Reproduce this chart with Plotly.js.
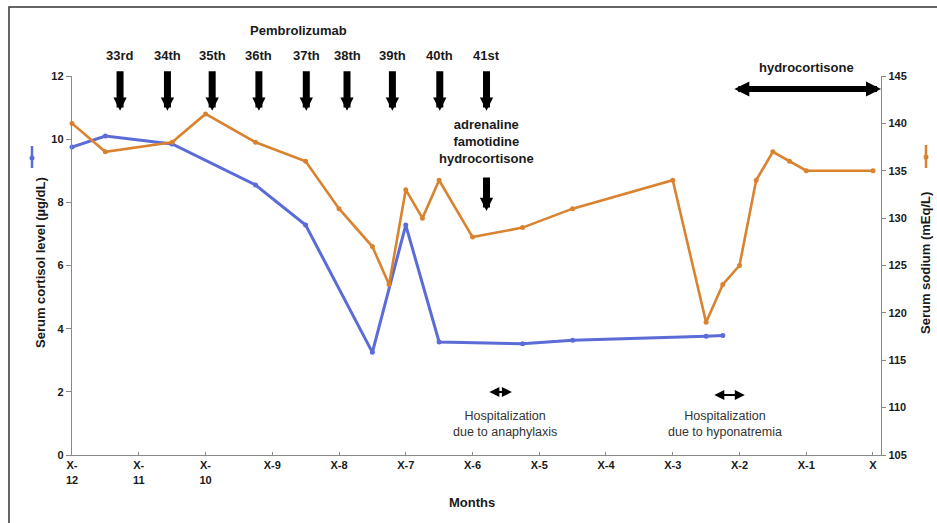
<!DOCTYPE html>
<html>
<head>
<meta charset="utf-8">
<script src="https://cdn.plot.ly/plotly-3.0.1.min.js"></script>
<style>html,body{margin:0;padding:0;background:#fff;}#chart{width:937px;height:523px;}</style>
</head>
<body>
<div id="chart"></div>
<script>
// ---- data ----
const cortisolMonths = [-12, -11.5, -10.5, -9.25, -8.5, -7.5, -7, -6.5, -5.25, -4.5, -2.5, -2.25];
const cortisolValues = [9.75, 10.1, 9.85, 8.55, 7.28, 3.25, 7.28, 3.58, 3.52, 3.63, 3.76, 3.78];

const sodiumMonths = [-12, -11.5, -10.5, -10, -9.25, -8.5, -8, -7.5, -7.25, -7, -6.75, -6.5, -6, -5.25, -4.5, -3, -2.5, -2.25, -2, -1.75, -1.5, -1.25, -1, 0];
const sodiumValues = [140, 137, 138, 141, 138, 136, 131, 127, 123, 133, 130, 134, 128, 129, 131, 134, 119, 123, 125, 134, 137, 136, 135, 135];

const tickMonths = [-12, -11, -10, -9, -8, -7, -6, -5, -4, -3, -2, -1, 0];
const tickLabels = ['X-<br>12', 'X-<br>11', 'X-<br>10', 'X-9', 'X-8', 'X-7', 'X-6', 'X-5', 'X-4', 'X-3', 'X-2', 'X-1', 'X'];

const doseLabels = ['33rd', '34th', '35th', '36th', '37th', '38th', '39th', '40th', '41st'];
const doseMonths = [-11.28, -10.57, -9.9, -9.2, -8.49, -7.88, -7.2, -6.49, -5.79];

const hydrocortisoneStart = -2.1;
const hydrocortisoneEnd = 0.12;
const anaphylaxisStay = [-5.77, -5.41];
const hyponatremiaStay = [-2.4, -1.92];

// ---- styles ----
const FONT = 'Liberation Sans, Arial, sans-serif';
const BLUE = '#5b6cd6';
const ORANGE = '#d9822f';
const INK = '#1a1a1a';
const AXIS = '#8a8a8a';

const traces = [
  {
    x: cortisolMonths, y: cortisolValues, type: 'scatter', mode: 'lines+markers',
    line: {color: BLUE, width: 3}, marker: {color: BLUE, size: 5},
    yaxis: 'y', cliponaxis: false, hoverinfo: 'skip'
  },
  {
    x: sodiumMonths, y: sodiumValues, type: 'scatter', mode: 'lines+markers',
    line: {color: ORANGE, width: 2.6}, marker: {color: ORANGE, size: 5},
    yaxis: 'y2', cliponaxis: false, hoverinfo: 'skip'
  }
];

const annotations = [];
// Dose labels & arrows
doseLabels.forEach((lab, i) => {
  annotations.push({
    x: doseMonths[i], xref: 'x', y: 1.055, yref: 'paper', text: lab, showarrow: false,
    font: {family: FONT, size: 13, color: INK, weight: 'bold'}, xanchor: 'center', yanchor: 'middle'
  });
  annotations.push({
    x: doseMonths[i], xref: 'x', y: 0.908, yref: 'paper', text: '', showarrow: true,
    ax: 0, ay: -41, arrowhead: 2, arrowsize: 0.38, arrowwidth: 7, arrowcolor: '#000'
  });
});
annotations.push({
  x: -8.6, xref: 'x', y: 1.119, yref: 'paper', text: 'Pembrolizumab', showarrow: false,
  font: {family: FONT, size: 13, color: INK, weight: 'bold'}, xanchor: 'center', yanchor: 'middle'
});
// Adrenaline etc.
annotations.push({
  x: doseMonths[8], xref: 'x', y: (455 - 141) / 379, yref: 'paper',
  text: 'adrenaline<br>famotidine<br>hydrocortisone', showarrow: false,
  font: {family: FONT, size: 13, color: INK, weight: 'bold'}, xanchor: 'center', yanchor: 'middle'
});
annotations.push({
  x: doseMonths[8], xref: 'x', y: (455 - 211) / 379, yref: 'paper', text: '', showarrow: true,
  ax: 0, ay: -35, arrowhead: 2, arrowsize: 0.38, arrowwidth: 7, arrowcolor: '#000'
});
// Hydrocortisone double arrow
annotations.push({
  x: hydrocortisoneEnd, xref: 'x', y: (455 - 89) / 379, yref: 'paper', text: '', showarrow: true,
  axref: 'x', ax: hydrocortisoneStart, ayref: 'pixel', ay: 0,
  arrowside: 'end+start', arrowhead: 2, startarrowhead: 2, arrowsize: 0.5, startarrowsize: 0.5,
  arrowwidth: 6, arrowcolor: '#000'
});
annotations.push({
  x: -1.0, xref: 'x', y: (455 - 68) / 379, yref: 'paper', text: 'hydrocortisone', showarrow: false,
  font: {family: FONT, size: 13, color: INK, weight: 'bold'}, xanchor: 'center', yanchor: 'middle'
});
// Hospitalization arrows
annotations.push({
  x: anaphylaxisStay[1], xref: 'x', y: (455 - 392) / 379, yref: 'paper', text: '', showarrow: true,
  axref: 'x', ax: anaphylaxisStay[0], ay: 0,
  arrowside: 'end+start', arrowhead: 2, startarrowhead: 2, arrowsize: 1, startarrowsize: 1,
  arrowwidth: 2, arrowcolor: '#000'
});
annotations.push({
  x: hyponatremiaStay[1], xref: 'x', y: (455 - 395) / 379, yref: 'paper', text: '', showarrow: true,
  axref: 'x', ax: hyponatremiaStay[0], ay: 0,
  arrowside: 'end+start', arrowhead: 2, startarrowhead: 2, arrowsize: 1, startarrowsize: 1,
  arrowwidth: 2, arrowcolor: '#000'
});
annotations.push({
  x: -5.51, xref: 'x', y: (455 - 424) / 379, yref: 'paper',
  text: 'Hospitalization<br>due to anaphylaxis', showarrow: false,
  font: {family: FONT, size: 12.5, color: '#333'}, xanchor: 'center', yanchor: 'middle'
});
annotations.push({
  x: -2.21, xref: 'x', y: (455 - 424) / 379, yref: 'paper',
  text: 'Hospitalization<br>due to hyponatremia', showarrow: false,
  font: {family: FONT, size: 12.5, color: '#333'}, xanchor: 'center', yanchor: 'middle'
});
// Axis titles
annotations.push({
  x: (40 - 72) / 809, xref: 'paper', y: (455 - 263) / 379, yref: 'paper',
  text: 'Serum cortisol level (µg/dL)', textangle: -90, showarrow: false,
  font: {family: FONT, size: 13, color: INK, weight: 'bold'}, xanchor: 'center', yanchor: 'middle'
});
annotations.push({
  x: (925 - 72) / 809, xref: 'paper', y: (455 - 263) / 379, yref: 'paper',
  text: 'Serum sodium (mEq/L)', textangle: -90, showarrow: false,
  font: {family: FONT, size: 13, color: INK, weight: 'bold'}, xanchor: 'center', yanchor: 'middle'
});
annotations.push({
  x: (472 - 72) / 809, xref: 'paper', y: (455 - 502) / 379, yref: 'paper',
  text: 'Months', showarrow: false,
  font: {family: FONT, size: 13, color: INK, weight: 'bold'}, xanchor: 'center', yanchor: 'middle'
});

const px = v => (v - 72) / 809;
const py = v => (455 - v) / 379;
const shapes = [
  {type: 'rect', xref: 'paper', yref: 'paper', x0: px(9), x1: px(945), y0: py(530), y1: py(7),
   line: {color: '#333', width: 1.5}, fillcolor: 'rgba(0,0,0,0)', layer: 'above'},
  // legend-like glyphs beside axis titles
  {type: 'line', xref: 'paper', yref: 'paper', x0: px(32), x1: px(32), y0: py(146), y1: py(168),
   line: {color: BLUE, width: 2.5}},
  {type: 'circle', xref: 'paper', yref: 'paper', x0: px(29.5), x1: px(34.5), y0: py(155.5), y1: py(160.5),
   line: {color: BLUE, width: 0}, fillcolor: BLUE},
  {type: 'line', xref: 'paper', yref: 'paper', x0: px(926), x1: px(926), y0: py(145), y1: py(168),
   line: {color: ORANGE, width: 2.5}},
  {type: 'circle', xref: 'paper', yref: 'paper', x0: px(923.5), x1: px(928.5), y0: py(154.5), y1: py(159.5),
   line: {color: ORANGE, width: 0}, fillcolor: ORANGE}
];

const tickFont = {family: FONT, size: 11, color: INK, weight: 'bold'};

const layout = {
  width: 937, height: 523,
  margin: {l: 72, r: 56, t: 76, b: 68},
  paper_bgcolor: '#fff', plot_bgcolor: '#fff',
  showlegend: false,
  xaxis: {
    range: [-12, 0.12], tickvals: tickMonths, ticktext: tickLabels,
    showgrid: false, zeroline: false, showline: true, linecolor: AXIS, linewidth: 1.2,
    ticks: 'inside', ticklen: 3, tickcolor: AXIS, tickfont: tickFont, tickangle: 0,
    fixedrange: true
  },
  yaxis: {
    range: [0, 12], tickvals: [0, 2, 4, 6, 8, 10, 12],
    showgrid: false, zeroline: false, showline: true, linecolor: AXIS, linewidth: 1.2,
    ticks: 'outside', ticklen: 5, tickcolor: AXIS, tickfont: tickFont, fixedrange: true
  },
  yaxis2: {
    range: [105, 145], tickvals: [105, 110, 115, 120, 125, 130, 135, 140, 145],
    overlaying: 'y', side: 'right',
    showgrid: false, zeroline: false, showline: true, linecolor: AXIS, linewidth: 1.2,
    ticks: 'outside', ticklen: 4, tickcolor: AXIS, tickfont: tickFont, fixedrange: true
  },
  annotations: annotations,
  shapes: shapes
};

Plotly.newPlot('chart', traces, layout, {displayModeBar: false, staticPlot: true});
</script>
</body>
</html>
